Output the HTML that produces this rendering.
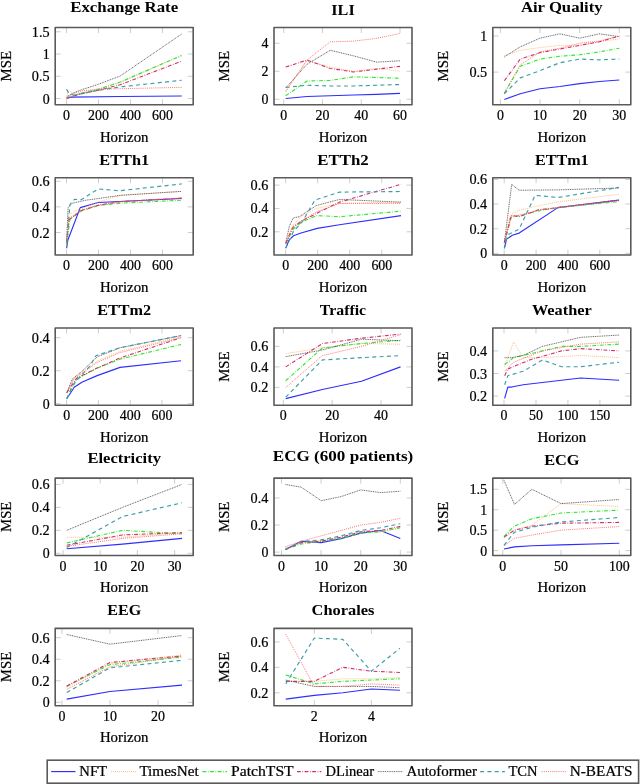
<!DOCTYPE html>
<html><head><meta charset="utf-8"><style>
html,body{margin:0;padding:0;background:#fff;width:640px;height:784px;overflow:hidden;position:relative}
svg{will-change:transform}
svg text{font-family:"Liberation Serif", serif;fill:#000;stroke:#000;stroke-width:0.22px}
</style></head><body>
<svg width="640" height="784" viewBox="0 0 640 784" style="position:absolute;left:0;top:0">
<rect width="640" height="784" fill="#fff"/>
<g><clipPath id="c00"><rect x="55.2" y="27.5" width="138" height="77.3"/></clipPath><path d="M66.5 104.8v-5.5M66.5 27.5v5.5M98.5 104.8v-5.5M98.5 27.5v5.5M130.5 104.8v-5.5M130.5 27.5v5.5M162.5 104.8v-5.5M162.5 27.5v5.5M55.2 98.5h5.5M193.2 98.5h-5.5M55.2 76.25h5.5M193.2 76.25h-5.5M55.2 54h5.5M193.2 54h-5.5M55.2 31.75h5.5M193.2 31.75h-5.5" stroke="#b8b8b8" stroke-width="0.7" fill="none"/><g clip-path="url(#c00)" fill="none" stroke-linejoin="round"><path d="M66.66 98.06 L71.3 97.17 L120.26 96.5 L181.7 96.05" stroke="#2e2eff" stroke-width="1.15"/><path d="M66.66 95.83 L68.9 90.05 L73.7 94.5 L81.86 92.72 L97.22 89.6 L120.26 82.48 L181.7 55.34" stroke="#ffb06a" stroke-width="0.8" stroke-dasharray="1 1"/><path d="M66.66 98.06 L74.18 95.39 L81.86 93.16 L97.22 89.6 L120.26 82.03 L181.7 55.6" stroke="#2ee82e" stroke-width="1.1" stroke-dasharray="3.8 1.6 0.7 1.5"/><path d="M66.66 98.5 L74.18 95.83 L81.86 93.61 L97.22 90.49 L120.26 84.7 L181.7 61.12" stroke="#d0306a" stroke-width="1.1" stroke-dasharray="3.8 1.6 0.7 1.5"/><path d="M66.66 96.72 L73.7 92.72 L81.86 89.6 L97.22 84.7 L120.26 75.98 L181.7 33.98" stroke="#444444" stroke-width="0.85" stroke-dasharray="1 0.8"/><path d="M66.66 89.29 L68.58 93.16 L74.18 95.39 L81.86 93.61 L97.22 90.49 L120.26 86.93 L181.7 80.25" stroke="#3a9ea6" stroke-width="1.15" stroke-dasharray="4 3.3"/><path d="M66.66 97.61 L74.18 93.16 L81.86 90.94 L97.22 89.16 L120.26 88.71 L181.7 87.38" stroke="#ff5a5a" stroke-width="0.85" stroke-dasharray="1 1.1"/></g><rect x="55.2" y="27.5" width="138" height="77.3" fill="none" stroke="#5a5a5a" stroke-width="1.6" stroke-linejoin="round"/><text x="66.5" y="120" font-size="13.8" text-anchor="middle" textLength="6.95" lengthAdjust="spacingAndGlyphs">0</text><text x="98.5" y="120" font-size="13.8" text-anchor="middle" textLength="20.85" lengthAdjust="spacingAndGlyphs">200</text><text x="130.5" y="120" font-size="13.8" text-anchor="middle" textLength="20.85" lengthAdjust="spacingAndGlyphs">400</text><text x="162.5" y="120" font-size="13.8" text-anchor="middle" textLength="20.85" lengthAdjust="spacingAndGlyphs">600</text><text x="49.6" y="103.5" font-size="13.8" text-anchor="end" textLength="6.95" lengthAdjust="spacingAndGlyphs">0</text><text x="49.6" y="81.25" font-size="13.8" text-anchor="end" textLength="17.8" lengthAdjust="spacingAndGlyphs">0.5</text><text x="49.6" y="59" font-size="13.8" text-anchor="end" textLength="6.95" lengthAdjust="spacingAndGlyphs">1</text><text x="49.6" y="36.75" font-size="13.8" text-anchor="end" textLength="17.8" lengthAdjust="spacingAndGlyphs">1.5</text><text x="124.2" y="141.6" font-size="14.2" text-anchor="middle" textLength="48.5" lengthAdjust="spacingAndGlyphs">Horizon</text><text transform="translate(10.6 66.15) rotate(-90)" font-size="14.3" text-anchor="middle" textLength="30.5" lengthAdjust="spacingAndGlyphs">MSE</text><text x="124.2" y="11.9" font-size="14.2" font-weight="bold" fill="#111" style="stroke:none" text-anchor="middle" textLength="107.9" lengthAdjust="spacingAndGlyphs">Exchange Rate</text></g>
<g><clipPath id="c10"><rect x="274" y="27.5" width="138" height="77.3"/></clipPath><path d="M283.75 104.8v-5.5M283.75 27.5v5.5M322.5 104.8v-5.5M322.5 27.5v5.5M361.25 104.8v-5.5M361.25 27.5v5.5M400 104.8v-5.5M400 27.5v5.5M274 99.25h5.5M412 99.25h-5.5M274 71.25h5.5M412 71.25h-5.5M274 43.25h5.5M412 43.25h-5.5" stroke="#b8b8b8" stroke-width="0.7" fill="none"/><g clip-path="url(#c10)" fill="none" stroke-linejoin="round"><path d="M285.69 98.55 L307 96.45 L330.25 95.75 L353.5 95.05 L376.75 94.35 L400 93.37" stroke="#2e2eff" stroke-width="1.15"/><path d="M285.69 90.85 L307 60.75 L330.25 67.05 L353.5 71.25 L376.75 68.45 L400 71.25" stroke="#ffb06a" stroke-width="0.8" stroke-dasharray="1 1"/><path d="M285.69 95.75 L307 81.05 L330.25 80.35 L353.5 76.85 L376.75 77.55 L400 78.25" stroke="#2ee82e" stroke-width="1.1" stroke-dasharray="3.8 1.6 0.7 1.5"/><path d="M285.69 67.05 L307 60.05 L330.25 68.45 L353.5 71.95 L376.75 69.15 L400 66.35" stroke="#d0306a" stroke-width="1.1" stroke-dasharray="3.8 1.6 0.7 1.5"/><path d="M285.69 88.05 L307 64.25 L330.25 50.25 L353.5 55.85 L376.75 62.15 L400 60.75" stroke="#444444" stroke-width="0.85" stroke-dasharray="1 0.8"/><path d="M285.69 87.35 L307 85.25 L330.25 85.95 L353.5 85.95 L376.75 85.25 L400 84.55" stroke="#3a9ea6" stroke-width="1.15" stroke-dasharray="4 3.3"/><path d="M285.69 91.55 L307 60.05 L330.25 41.85 L353.5 41.15 L376.75 38.35 L400 33.45" stroke="#ff5a5a" stroke-width="0.85" stroke-dasharray="1 1.1"/></g><rect x="274" y="27.5" width="138" height="77.3" fill="none" stroke="#5a5a5a" stroke-width="1.6" stroke-linejoin="round"/><text x="283.75" y="120" font-size="13.8" text-anchor="middle" textLength="6.95" lengthAdjust="spacingAndGlyphs">0</text><text x="322.5" y="120" font-size="13.8" text-anchor="middle" textLength="13.9" lengthAdjust="spacingAndGlyphs">20</text><text x="361.25" y="120" font-size="13.8" text-anchor="middle" textLength="13.9" lengthAdjust="spacingAndGlyphs">40</text><text x="400" y="120" font-size="13.8" text-anchor="middle" textLength="13.9" lengthAdjust="spacingAndGlyphs">60</text><text x="268.4" y="104.25" font-size="13.8" text-anchor="end" textLength="6.95" lengthAdjust="spacingAndGlyphs">0</text><text x="268.4" y="76.25" font-size="13.8" text-anchor="end" textLength="6.95" lengthAdjust="spacingAndGlyphs">2</text><text x="268.4" y="48.25" font-size="13.8" text-anchor="end" textLength="6.95" lengthAdjust="spacingAndGlyphs">4</text><text x="343" y="141.6" font-size="14.2" text-anchor="middle" textLength="48.5" lengthAdjust="spacingAndGlyphs">Horizon</text><text transform="translate(229.4 66.15) rotate(-90)" font-size="14.3" text-anchor="middle" textLength="30.5" lengthAdjust="spacingAndGlyphs">MSE</text><text x="343" y="14.5" font-size="14.2" font-weight="bold" fill="#111" style="stroke:none" text-anchor="middle" textLength="23.4" lengthAdjust="spacingAndGlyphs">ILI</text></g>
<g><clipPath id="c20"><rect x="492.8" y="27.5" width="138" height="77.3"/></clipPath><path d="M500.4 104.8v-5.5M500.4 27.5v5.5M540.03 104.8v-5.5M540.03 27.5v5.5M579.67 104.8v-5.5M579.67 27.5v5.5M619.3 104.8v-5.5M619.3 27.5v5.5M492.8 72.1h5.5M630.8 72.1h-5.5M492.8 36h5.5M630.8 36h-5.5" stroke="#b8b8b8" stroke-width="0.7" fill="none"/><g clip-path="url(#c20)" fill="none" stroke-linejoin="round"><path d="M504.36 99.54 L520.22 93.76 L540.03 88.71 L559.85 86.54 L579.67 83.65 L599.48 81.49 L619.3 80.04" stroke="#2e2eff" stroke-width="1.15"/><path d="M504.36 55.49 L520.22 50.44 L540.03 47.55 L559.85 45.39 L579.67 45.39 L599.48 41.78 L619.3 38.89" stroke="#ffb06a" stroke-width="0.8" stroke-dasharray="1 1"/><path d="M504.36 93.04 L520.22 66.32 L540.03 59.1 L559.85 56.22 L579.67 54.77 L599.48 51.88 L619.3 48.27" stroke="#2ee82e" stroke-width="1.1" stroke-dasharray="3.8 1.6 0.7 1.5"/><path d="M504.36 80.76 L520.22 59.1 L540.03 52.61 L559.85 49 L579.67 45.39 L599.48 41.78 L619.3 36" stroke="#d0306a" stroke-width="1.1" stroke-dasharray="3.8 1.6 0.7 1.5"/><path d="M504.36 56.94 L520.22 46.83 L540.03 38.17 L559.85 33.83 L579.67 38.17 L599.48 33.83 L619.3 36.72" stroke="#444444" stroke-width="0.85" stroke-dasharray="1 0.8"/><path d="M504.36 93.76 L520.22 77.88 L540.03 70.66 L559.85 62.71 L579.67 59.1 L599.48 59.83 L619.3 59.1" stroke="#3a9ea6" stroke-width="1.15" stroke-dasharray="4 3.3"/><path d="M504.36 93.04 L520.22 64.88 L540.03 51.88 L559.85 48.27 L579.67 43.22 L599.48 41.05 L619.3 36" stroke="#ff5a5a" stroke-width="0.85" stroke-dasharray="1 1.1"/></g><rect x="492.8" y="27.5" width="138" height="77.3" fill="none" stroke="#5a5a5a" stroke-width="1.6" stroke-linejoin="round"/><text x="500.4" y="120" font-size="13.8" text-anchor="middle" textLength="6.95" lengthAdjust="spacingAndGlyphs">0</text><text x="540.03" y="120" font-size="13.8" text-anchor="middle" textLength="13.9" lengthAdjust="spacingAndGlyphs">10</text><text x="579.67" y="120" font-size="13.8" text-anchor="middle" textLength="13.9" lengthAdjust="spacingAndGlyphs">20</text><text x="619.3" y="120" font-size="13.8" text-anchor="middle" textLength="13.9" lengthAdjust="spacingAndGlyphs">30</text><text x="487.2" y="77.1" font-size="13.8" text-anchor="end" textLength="17.8" lengthAdjust="spacingAndGlyphs">0.5</text><text x="487.2" y="41" font-size="13.8" text-anchor="end" textLength="6.95" lengthAdjust="spacingAndGlyphs">1</text><text x="561.8" y="141.6" font-size="14.2" text-anchor="middle" textLength="48.5" lengthAdjust="spacingAndGlyphs">Horizon</text><text transform="translate(448.2 66.15) rotate(-90)" font-size="14.3" text-anchor="middle" textLength="30.5" lengthAdjust="spacingAndGlyphs">MSE</text><text x="561.8" y="11.9" font-size="14.2" font-weight="bold" fill="#111" style="stroke:none" text-anchor="middle" textLength="81.7" lengthAdjust="spacingAndGlyphs">Air Quality</text></g>
<g><clipPath id="c01"><rect x="55.2" y="177.72" width="138" height="77.3"/></clipPath><path d="M66.5 255.02v-5.5M66.5 177.72v5.5M98.5 255.02v-5.5M98.5 177.72v5.5M130.5 255.02v-5.5M130.5 177.72v5.5M162.5 255.02v-5.5M162.5 177.72v5.5M55.2 232.5h5.5M193.2 232.5h-5.5M55.2 206.88h5.5M193.2 206.88h-5.5M55.2 181.25h5.5M193.2 181.25h-5.5" stroke="#b8b8b8" stroke-width="0.7" fill="none"/><g clip-path="url(#c01)" fill="none" stroke-linejoin="round"><path d="M66.66 248.26 L67.78 240.32 L80.26 207.64 L98.18 202.52 L181.7 198.55" stroke="#2e2eff" stroke-width="1.15"/><path d="M66.66 240.32 L68.9 215.46 L74.5 210.97 L81.22 208.8 L98.18 202.01 L120.26 195.34 L181.7 191.37" stroke="#ffb06a" stroke-width="0.8" stroke-dasharray="1 1"/><path d="M66.66 244.8 L70.02 218.92 L81.22 210.97 L98.18 205.59 L120.26 203.16 L181.7 200.21" stroke="#2ee82e" stroke-width="1.1" stroke-dasharray="3.8 1.6 0.7 1.5"/><path d="M66.66 242.62 L68.9 219.94 L81.22 210.59 L98.18 205.34 L120.26 201.62 L181.7 198.16" stroke="#d0306a" stroke-width="1.1" stroke-dasharray="3.8 1.6 0.7 1.5"/><path d="M66.66 238.91 L68.1 207.64 L72.26 203.16 L85.86 200.21 L98.18 198.55 L120.26 195.34 L181.7 191.37" stroke="#444444" stroke-width="0.85" stroke-dasharray="1 0.8"/><path d="M66.66 242.62 L70.02 204.31 L74.5 199.32 L81.22 199.7 L98.18 188.94 L119.62 190.73 L181.7 183.94" stroke="#3a9ea6" stroke-width="1.15" stroke-dasharray="4 3.3"/><path d="M66.66 242.62 L68.9 218.41 L81.22 210.08 L98.18 204.95 L120.26 201.75 L181.7 197.91" stroke="#ff5a5a" stroke-width="0.85" stroke-dasharray="1 1.1"/></g><rect x="55.2" y="177.72" width="138" height="77.3" fill="none" stroke="#5a5a5a" stroke-width="1.6" stroke-linejoin="round"/><text x="66.5" y="270.22" font-size="13.8" text-anchor="middle" textLength="6.95" lengthAdjust="spacingAndGlyphs">0</text><text x="98.5" y="270.22" font-size="13.8" text-anchor="middle" textLength="20.85" lengthAdjust="spacingAndGlyphs">200</text><text x="130.5" y="270.22" font-size="13.8" text-anchor="middle" textLength="20.85" lengthAdjust="spacingAndGlyphs">400</text><text x="162.5" y="270.22" font-size="13.8" text-anchor="middle" textLength="20.85" lengthAdjust="spacingAndGlyphs">600</text><text x="49.6" y="237.5" font-size="13.8" text-anchor="end" textLength="17.8" lengthAdjust="spacingAndGlyphs">0.2</text><text x="49.6" y="211.88" font-size="13.8" text-anchor="end" textLength="17.8" lengthAdjust="spacingAndGlyphs">0.4</text><text x="49.6" y="186.25" font-size="13.8" text-anchor="end" textLength="17.8" lengthAdjust="spacingAndGlyphs">0.6</text><text x="124.2" y="291.82" font-size="14.2" text-anchor="middle" textLength="48.5" lengthAdjust="spacingAndGlyphs">Horizon</text><text x="124.2" y="164.72" font-size="14.2" font-weight="bold" fill="#111" style="stroke:none" text-anchor="middle" textLength="49.9" lengthAdjust="spacingAndGlyphs">ETTh1</text></g>
<g><clipPath id="c11"><rect x="274" y="177.72" width="138" height="77.3"/></clipPath><path d="M285.6 255.02v-5.5M285.6 177.72v5.5M317.67 255.02v-5.5M317.67 177.72v5.5M349.73 255.02v-5.5M349.73 177.72v5.5M381.8 255.02v-5.5M381.8 177.72v5.5M274 231.8h5.5M412 231.8h-5.5M274 208.45h5.5M412 208.45h-5.5M274 185.1h5.5M412 185.1h-5.5" stroke="#b8b8b8" stroke-width="0.7" fill="none"/><g clip-path="url(#c11)" fill="none" stroke-linejoin="round"><path d="M285.76 248.15 L288.97 240.21 L293.46 235.77 L300.99 232.97 L317.19 228.41 L339.47 224.8 L401.04 215.57" stroke="#2e2eff" stroke-width="1.15"/><path d="M285.76 243.48 L293.3 224.56 L300.99 216.62 L316.38 208.45 L339.47 203.43 L401.04 202.15" stroke="#ffb06a" stroke-width="0.8" stroke-dasharray="1 1"/><path d="M285.76 243.48 L293.3 229 L300.99 222.46 L316.38 215.57 L339.47 216.74 L401.04 211.14" stroke="#2ee82e" stroke-width="1.1" stroke-dasharray="3.8 1.6 0.7 1.5"/><path d="M285.76 243.48 L292.49 227.95 L300.99 221.29 L316.38 213.47 L339.47 202.15 L401.04 184.28" stroke="#d0306a" stroke-width="1.1" stroke-dasharray="3.8 1.6 0.7 1.5"/><path d="M285.76 242.54 L289.45 225.96 L293.3 217.91 L299.23 216.74 L316.38 205.53 L339.47 199.46 L401.04 202.15" stroke="#444444" stroke-width="0.85" stroke-dasharray="1 0.8"/><path d="M285.76 248.15 L293.3 231.8 L302.6 221.29 L314.94 200.04 L339.47 192.1 L401.04 191.52" stroke="#3a9ea6" stroke-width="1.15" stroke-dasharray="4 3.3"/><path d="M285.76 243.48 L293.46 225.96 L316.38 211.95 L339.47 203.43 L401.04 203.43" stroke="#ff5a5a" stroke-width="0.85" stroke-dasharray="1 1.1"/></g><rect x="274" y="177.72" width="138" height="77.3" fill="none" stroke="#5a5a5a" stroke-width="1.6" stroke-linejoin="round"/><text x="285.6" y="270.22" font-size="13.8" text-anchor="middle" textLength="6.95" lengthAdjust="spacingAndGlyphs">0</text><text x="317.67" y="270.22" font-size="13.8" text-anchor="middle" textLength="20.85" lengthAdjust="spacingAndGlyphs">200</text><text x="349.73" y="270.22" font-size="13.8" text-anchor="middle" textLength="20.85" lengthAdjust="spacingAndGlyphs">400</text><text x="381.8" y="270.22" font-size="13.8" text-anchor="middle" textLength="20.85" lengthAdjust="spacingAndGlyphs">600</text><text x="268.4" y="236.8" font-size="13.8" text-anchor="end" textLength="17.8" lengthAdjust="spacingAndGlyphs">0.2</text><text x="268.4" y="213.45" font-size="13.8" text-anchor="end" textLength="17.8" lengthAdjust="spacingAndGlyphs">0.4</text><text x="268.4" y="190.1" font-size="13.8" text-anchor="end" textLength="17.8" lengthAdjust="spacingAndGlyphs">0.6</text><text x="343" y="291.82" font-size="14.2" text-anchor="middle" textLength="48.5" lengthAdjust="spacingAndGlyphs">Horizon</text><text x="343" y="164.72" font-size="14.2" font-weight="bold" fill="#111" style="stroke:none" text-anchor="middle" textLength="51.5" lengthAdjust="spacingAndGlyphs">ETTh2</text></g>
<g><clipPath id="c21"><rect x="492.8" y="177.72" width="138" height="77.3"/></clipPath><path d="M504.2 255.02v-5.5M504.2 177.72v5.5M536.07 255.02v-5.5M536.07 177.72v5.5M567.93 255.02v-5.5M567.93 177.72v5.5M599.8 255.02v-5.5M599.8 177.72v5.5M492.8 253.3h5.5M630.8 253.3h-5.5M492.8 228.67h5.5M630.8 228.67h-5.5M492.8 204.03h5.5M630.8 204.03h-5.5M492.8 179.4h5.5M630.8 179.4h-5.5" stroke="#b8b8b8" stroke-width="0.7" fill="none"/><g clip-path="url(#c21)" fill="none" stroke-linejoin="round"><path d="M504.36 248.25 L506.59 239.14 L512.33 235.32 L519.18 233.1 L557.9 207.61 L618.92 200.09" stroke="#2e2eff" stroke-width="1.15"/><path d="M504.36 242.58 L510.1 215.49 L516.95 210.93 L535.11 206.5 L557.9 201.94 L618.92 194.18" stroke="#ffb06a" stroke-width="0.8" stroke-dasharray="1 1"/><path d="M504.36 242.58 L511.21 217.58 L538.46 210.93 L557.9 207.61 L618.92 201.57" stroke="#2ee82e" stroke-width="1.1" stroke-dasharray="3.8 1.6 0.7 1.5"/><path d="M504.36 242.58 L511.21 215.49 L519.18 216.6 L538.46 209.82 L557.9 207.61 L618.92 200.09" stroke="#d0306a" stroke-width="1.1" stroke-dasharray="3.8 1.6 0.7 1.5"/><path d="M504.36 242.58 L511.69 184.45 L519.18 190.24 L557.74 189.87 L618.92 188.02" stroke="#444444" stroke-width="0.85" stroke-dasharray="1 0.8"/><path d="M504.36 248.25 L507.71 234.7 L519.18 229.04 L535.11 195.29 L557.9 197.51 L618.92 187.41" stroke="#3a9ea6" stroke-width="1.15" stroke-dasharray="4 3.3"/><path d="M504.36 242.58 L511.21 216.35 L519.18 215.12 L538.46 210.19 L557.9 207.61 L618.92 200.34" stroke="#ff5a5a" stroke-width="0.85" stroke-dasharray="1 1.1"/></g><rect x="492.8" y="177.72" width="138" height="77.3" fill="none" stroke="#5a5a5a" stroke-width="1.6" stroke-linejoin="round"/><text x="504.2" y="270.22" font-size="13.8" text-anchor="middle" textLength="6.95" lengthAdjust="spacingAndGlyphs">0</text><text x="536.07" y="270.22" font-size="13.8" text-anchor="middle" textLength="20.85" lengthAdjust="spacingAndGlyphs">200</text><text x="567.93" y="270.22" font-size="13.8" text-anchor="middle" textLength="20.85" lengthAdjust="spacingAndGlyphs">400</text><text x="599.8" y="270.22" font-size="13.8" text-anchor="middle" textLength="20.85" lengthAdjust="spacingAndGlyphs">600</text><text x="487.2" y="258.3" font-size="13.8" text-anchor="end" textLength="6.95" lengthAdjust="spacingAndGlyphs">0</text><text x="487.2" y="233.67" font-size="13.8" text-anchor="end" textLength="17.8" lengthAdjust="spacingAndGlyphs">0.2</text><text x="487.2" y="209.03" font-size="13.8" text-anchor="end" textLength="17.8" lengthAdjust="spacingAndGlyphs">0.4</text><text x="487.2" y="184.4" font-size="13.8" text-anchor="end" textLength="17.8" lengthAdjust="spacingAndGlyphs">0.6</text><text x="561.8" y="291.82" font-size="14.2" text-anchor="middle" textLength="48.5" lengthAdjust="spacingAndGlyphs">Horizon</text><text x="561.8" y="164.72" font-size="14.2" font-weight="bold" fill="#111" style="stroke:none" text-anchor="middle" textLength="53.8" lengthAdjust="spacingAndGlyphs">ETTm1</text></g>
<g><clipPath id="c02"><rect x="55.2" y="327.94" width="138" height="77.3"/></clipPath><path d="M66.6 405.24v-5.5M66.6 327.94v5.5M98.4 405.24v-5.5M98.4 327.94v5.5M130.2 405.24v-5.5M130.2 327.94v5.5M162 405.24v-5.5M162 327.94v5.5M55.2 403.7h5.5M193.2 403.7h-5.5M55.2 370.7h5.5M193.2 370.7h-5.5M55.2 337.7h5.5M193.2 337.7h-5.5" stroke="#b8b8b8" stroke-width="0.7" fill="none"/><g clip-path="url(#c02)" fill="none" stroke-linejoin="round"><path d="M66.76 398.75 L74.23 387.2 L81.86 382.25 L97.13 375.65 L120.02 367.4 L181.08 360.8" stroke="#2e2eff" stroke-width="1.15"/><path d="M66.76 392.64 L74.23 378.12 L97.13 361.29 L120.02 351.23 L181.08 336.71" stroke="#ffb06a" stroke-width="0.8" stroke-dasharray="1 1"/><path d="M66.76 398.75 L76.78 379.12 L97.13 368.06 L120.02 359.15 L181.08 344.46" stroke="#2ee82e" stroke-width="1.1" stroke-dasharray="3.8 1.6 0.7 1.5"/><path d="M66.76 392.64 L76.78 378.12 L97.13 368.06 L120.02 358 L181.08 337.7" stroke="#d0306a" stroke-width="1.1" stroke-dasharray="3.8 1.6 0.7 1.5"/><path d="M66.76 392.64 L72.32 379.12 L81.86 371.36 L97.13 356.84 L120.02 347.76 L181.08 335.56" stroke="#444444" stroke-width="0.85" stroke-dasharray="1 0.8"/><path d="M66.76 398.75 L72.32 385.88 L76.78 380.27 L90.29 365.75 L95.86 355.69 L120.02 347.76 L181.08 335.56" stroke="#3a9ea6" stroke-width="1.15" stroke-dasharray="4 3.3"/><path d="M66.76 392.64 L74.23 378.95 L97.13 362.45 L120.02 352.55 L181.08 337.7" stroke="#ff5a5a" stroke-width="0.85" stroke-dasharray="1 1.1"/></g><rect x="55.2" y="327.94" width="138" height="77.3" fill="none" stroke="#5a5a5a" stroke-width="1.6" stroke-linejoin="round"/><text x="66.6" y="420.44" font-size="13.8" text-anchor="middle" textLength="6.95" lengthAdjust="spacingAndGlyphs">0</text><text x="98.4" y="420.44" font-size="13.8" text-anchor="middle" textLength="20.85" lengthAdjust="spacingAndGlyphs">200</text><text x="130.2" y="420.44" font-size="13.8" text-anchor="middle" textLength="20.85" lengthAdjust="spacingAndGlyphs">400</text><text x="162" y="420.44" font-size="13.8" text-anchor="middle" textLength="20.85" lengthAdjust="spacingAndGlyphs">600</text><text x="49.6" y="408.7" font-size="13.8" text-anchor="end" textLength="6.95" lengthAdjust="spacingAndGlyphs">0</text><text x="49.6" y="375.7" font-size="13.8" text-anchor="end" textLength="17.8" lengthAdjust="spacingAndGlyphs">0.2</text><text x="49.6" y="342.7" font-size="13.8" text-anchor="end" textLength="17.8" lengthAdjust="spacingAndGlyphs">0.4</text><text x="124.2" y="442.04" font-size="14.2" text-anchor="middle" textLength="48.5" lengthAdjust="spacingAndGlyphs">Horizon</text><text x="124.2" y="314.94" font-size="14.2" font-weight="bold" fill="#111" style="stroke:none" text-anchor="middle" textLength="54" lengthAdjust="spacingAndGlyphs">ETTm2</text></g>
<g><clipPath id="c12"><rect x="274" y="327.94" width="138" height="77.3"/></clipPath><path d="M283.3 405.24v-5.5M283.3 327.94v5.5M332.15 405.24v-5.5M332.15 327.94v5.5M381 405.24v-5.5M381 327.94v5.5M274 387.4h5.5M412 387.4h-5.5M274 366.9h5.5M412 366.9h-5.5M274 346.4h5.5M412 346.4h-5.5" stroke="#b8b8b8" stroke-width="0.7" fill="none"/><g clip-path="url(#c12)" fill="none" stroke-linejoin="round"><path d="M285.74 398.67 L322.38 389.45 L361.46 381.25 L400.54 366.9" stroke="#2e2eff" stroke-width="1.15"/><path d="M285.74 353.57 L322.38 347.94 L361.46 343.32 L400.54 344.35" stroke="#ffb06a" stroke-width="0.8" stroke-dasharray="1 1"/><path d="M285.74 380.74 L322.38 347.94 L361.46 343.53 L400.54 340.25" stroke="#2ee82e" stroke-width="1.1" stroke-dasharray="3.8 1.6 0.7 1.5"/><path d="M285.74 366.9 L322.38 343.53 L361.46 338.2 L400.54 334.1" stroke="#d0306a" stroke-width="1.1" stroke-dasharray="3.8 1.6 0.7 1.5"/><path d="M285.74 356.65 L322.38 349.99 L361.46 339.22 L400.54 340.76" stroke="#444444" stroke-width="0.85" stroke-dasharray="1 0.8"/><path d="M285.74 397.14 L322.38 359.93 L361.46 357.67 L400.54 355.62" stroke="#3a9ea6" stroke-width="1.15" stroke-dasharray="4 3.3"/><path d="M285.74 387.4 L322.38 355.62 L361.46 346.4 L400.54 334.71" stroke="#ff5a5a" stroke-width="0.85" stroke-dasharray="1 1.1"/></g><rect x="274" y="327.94" width="138" height="77.3" fill="none" stroke="#5a5a5a" stroke-width="1.6" stroke-linejoin="round"/><text x="283.3" y="420.44" font-size="13.8" text-anchor="middle" textLength="6.95" lengthAdjust="spacingAndGlyphs">0</text><text x="332.15" y="420.44" font-size="13.8" text-anchor="middle" textLength="13.9" lengthAdjust="spacingAndGlyphs">20</text><text x="381" y="420.44" font-size="13.8" text-anchor="middle" textLength="13.9" lengthAdjust="spacingAndGlyphs">40</text><text x="268.4" y="392.4" font-size="13.8" text-anchor="end" textLength="17.8" lengthAdjust="spacingAndGlyphs">0.2</text><text x="268.4" y="371.9" font-size="13.8" text-anchor="end" textLength="17.8" lengthAdjust="spacingAndGlyphs">0.4</text><text x="268.4" y="351.4" font-size="13.8" text-anchor="end" textLength="17.8" lengthAdjust="spacingAndGlyphs">0.6</text><text x="343" y="442.04" font-size="14.2" text-anchor="middle" textLength="48.5" lengthAdjust="spacingAndGlyphs">Horizon</text><text transform="translate(229.4 366.59) rotate(-90)" font-size="14.3" text-anchor="middle" textLength="30.5" lengthAdjust="spacingAndGlyphs">MSE</text><text x="343" y="314.94" font-size="14.2" font-weight="bold" fill="#111" style="stroke:none" text-anchor="middle" textLength="46.3" lengthAdjust="spacingAndGlyphs">Traffic</text></g>
<g><clipPath id="c22"><rect x="492.8" y="327.94" width="138" height="77.3"/></clipPath><path d="M504 405.24v-5.5M504 327.94v5.5M535.97 405.24v-5.5M535.97 327.94v5.5M567.93 405.24v-5.5M567.93 327.94v5.5M599.9 405.24v-5.5M599.9 327.94v5.5M492.8 396.1h5.5M630.8 396.1h-5.5M492.8 373.5h5.5M630.8 373.5h-5.5M492.8 350.9h5.5M630.8 350.9h-5.5" stroke="#b8b8b8" stroke-width="0.7" fill="none"/><g clip-path="url(#c22)" fill="none" stroke-linejoin="round"><path d="M504.64 398.36 L507.84 387.06 L511.67 387.06 L523.18 384.8 L542.36 382.54 L561.54 380.28 L580.72 378.02 L619.08 380.28" stroke="#2e2eff" stroke-width="1.15"/><path d="M504.64 366.72 L507.84 357.68 L513.59 341.86 L523.18 357.68 L542.36 357.68 L580.72 355.42 L619.08 357.68" stroke="#ffb06a" stroke-width="0.8" stroke-dasharray="1 1"/><path d="M504.64 364.46 L513.59 357.68 L542.36 350.9 L561.54 346.38 L580.72 346.38 L619.08 344.12" stroke="#2ee82e" stroke-width="1.1" stroke-dasharray="3.8 1.6 0.7 1.5"/><path d="M504.64 375.76 L507.84 368.98 L529.57 359.94 L561.54 350.9 L580.72 348.64 L619.08 350.9" stroke="#d0306a" stroke-width="1.1" stroke-dasharray="3.8 1.6 0.7 1.5"/><path d="M504.64 357.68 L511.67 357.68 L523.18 355.42 L542.36 346.38 L580.72 337.34 L619.08 335.08" stroke="#444444" stroke-width="0.85" stroke-dasharray="1 0.8"/><path d="M504.64 384.8 L507.84 375.76 L523.18 371.24 L542.36 359.94 L561.54 366.72 L580.72 366.72 L619.08 362.2" stroke="#3a9ea6" stroke-width="1.15" stroke-dasharray="4 3.3"/><path d="M504.64 371.24 L513.59 362.2 L542.36 350.9 L580.72 344.12 L619.08 341.86" stroke="#ff5a5a" stroke-width="0.85" stroke-dasharray="1 1.1"/></g><rect x="492.8" y="327.94" width="138" height="77.3" fill="none" stroke="#5a5a5a" stroke-width="1.6" stroke-linejoin="round"/><text x="504" y="420.44" font-size="13.8" text-anchor="middle" textLength="6.95" lengthAdjust="spacingAndGlyphs">0</text><text x="535.97" y="420.44" font-size="13.8" text-anchor="middle" textLength="13.9" lengthAdjust="spacingAndGlyphs">50</text><text x="567.93" y="420.44" font-size="13.8" text-anchor="middle" textLength="20.85" lengthAdjust="spacingAndGlyphs">100</text><text x="599.9" y="420.44" font-size="13.8" text-anchor="middle" textLength="20.85" lengthAdjust="spacingAndGlyphs">150</text><text x="487.2" y="401.1" font-size="13.8" text-anchor="end" textLength="17.8" lengthAdjust="spacingAndGlyphs">0.2</text><text x="487.2" y="378.5" font-size="13.8" text-anchor="end" textLength="17.8" lengthAdjust="spacingAndGlyphs">0.3</text><text x="487.2" y="355.9" font-size="13.8" text-anchor="end" textLength="17.8" lengthAdjust="spacingAndGlyphs">0.4</text><text x="561.8" y="442.04" font-size="14.2" text-anchor="middle" textLength="48.5" lengthAdjust="spacingAndGlyphs">Horizon</text><text transform="translate(448.2 366.59) rotate(-90)" font-size="14.3" text-anchor="middle" textLength="30.5" lengthAdjust="spacingAndGlyphs">MSE</text><text x="561.8" y="314.94" font-size="14.2" font-weight="bold" fill="#111" style="stroke:none" text-anchor="middle" textLength="59.8" lengthAdjust="spacingAndGlyphs">Weather</text></g>
<g><clipPath id="c03"><rect x="55.2" y="478.16" width="138" height="77.3"/></clipPath><path d="M63 555.46v-5.5M63 478.16v5.5M100.2 555.46v-5.5M100.2 478.16v5.5M137.4 555.46v-5.5M137.4 478.16v5.5M174.6 555.46v-5.5M174.6 478.16v5.5M55.2 553.3h5.5M193.2 553.3h-5.5M55.2 530.33h5.5M193.2 530.33h-5.5M55.2 507.37h5.5M193.2 507.37h-5.5M55.2 484.4h5.5M193.2 484.4h-5.5" stroke="#b8b8b8" stroke-width="0.7" fill="none"/><g clip-path="url(#c03)" fill="none" stroke-linejoin="round"><path d="M66.72 548.71 L122.52 544.11 L182.04 538.37" stroke="#2e2eff" stroke-width="1.15"/><path d="M66.72 537.22 L122.52 537.22 L182.04 532.63" stroke="#ffb06a" stroke-width="0.8" stroke-dasharray="1 1"/><path d="M66.72 542.96 L122.52 530.33 L182.04 533.78" stroke="#2ee82e" stroke-width="1.1" stroke-dasharray="3.8 1.6 0.7 1.5"/><path d="M66.72 545.26 L122.52 534.93 L182.04 532.63" stroke="#d0306a" stroke-width="1.1" stroke-dasharray="3.8 1.6 0.7 1.5"/><path d="M66.72 530.33 L122.52 507.37 L182.04 484.4" stroke="#444444" stroke-width="0.85" stroke-dasharray="1 0.8"/><path d="M66.72 547.56 L122.52 516.55 L182.04 502.77" stroke="#3a9ea6" stroke-width="1.15" stroke-dasharray="4 3.3"/><path d="M66.72 546.41 L122.52 538.37 L182.04 533.78" stroke="#ff5a5a" stroke-width="0.85" stroke-dasharray="1 1.1"/></g><rect x="55.2" y="478.16" width="138" height="77.3" fill="none" stroke="#5a5a5a" stroke-width="1.6" stroke-linejoin="round"/><text x="63" y="570.66" font-size="13.8" text-anchor="middle" textLength="6.95" lengthAdjust="spacingAndGlyphs">0</text><text x="100.2" y="570.66" font-size="13.8" text-anchor="middle" textLength="13.9" lengthAdjust="spacingAndGlyphs">10</text><text x="137.4" y="570.66" font-size="13.8" text-anchor="middle" textLength="13.9" lengthAdjust="spacingAndGlyphs">20</text><text x="174.6" y="570.66" font-size="13.8" text-anchor="middle" textLength="13.9" lengthAdjust="spacingAndGlyphs">30</text><text x="49.6" y="558.3" font-size="13.8" text-anchor="end" textLength="6.95" lengthAdjust="spacingAndGlyphs">0</text><text x="49.6" y="535.33" font-size="13.8" text-anchor="end" textLength="17.8" lengthAdjust="spacingAndGlyphs">0.2</text><text x="49.6" y="512.37" font-size="13.8" text-anchor="end" textLength="17.8" lengthAdjust="spacingAndGlyphs">0.4</text><text x="49.6" y="489.4" font-size="13.8" text-anchor="end" textLength="17.8" lengthAdjust="spacingAndGlyphs">0.6</text><text x="124.2" y="592.26" font-size="14.2" text-anchor="middle" textLength="48.5" lengthAdjust="spacingAndGlyphs">Horizon</text><text transform="translate(10.6 516.81) rotate(-90)" font-size="14.3" text-anchor="middle" textLength="30.5" lengthAdjust="spacingAndGlyphs">MSE</text><text x="124.2" y="462.56" font-size="14.2" font-weight="bold" fill="#111" style="stroke:none" text-anchor="middle" textLength="73.5" lengthAdjust="spacingAndGlyphs">Electricity</text></g>
<g><clipPath id="c13"><rect x="274" y="478.16" width="138" height="77.3"/></clipPath><path d="M281.5 555.46v-5.5M281.5 478.16v5.5M321.1 555.46v-5.5M321.1 478.16v5.5M360.7 555.46v-5.5M360.7 478.16v5.5M400.3 555.46v-5.5M400.3 478.16v5.5M274 552.1h5.5M412 552.1h-5.5M274 525.05h5.5M412 525.05h-5.5M274 498h5.5M412 498h-5.5" stroke="#b8b8b8" stroke-width="0.7" fill="none"/><g clip-path="url(#c13)" fill="none" stroke-linejoin="round"><path d="M285.46 549.39 L301.3 541.28 L321.1 542.63 L340.9 538.58 L360.7 533.16 L380.5 530.46 L400.3 538.58" stroke="#2e2eff" stroke-width="1.15"/><path d="M285.46 548.04 L301.3 542.63 L321.1 539.93 L340.9 537.22 L360.7 531.81 L380.5 531.81 L400.3 527.75" stroke="#ffb06a" stroke-width="0.8" stroke-dasharray="1 1"/><path d="M285.46 549.39 L301.3 543.99 L321.1 541.28 L340.9 538.58 L360.7 533.16 L380.5 531.81 L400.3 527.75" stroke="#2ee82e" stroke-width="1.1" stroke-dasharray="3.8 1.6 0.7 1.5"/><path d="M285.46 549.39 L301.3 542.63 L321.1 541.28 L340.9 537.22 L360.7 531.81 L380.5 530.46 L400.3 526.4" stroke="#d0306a" stroke-width="1.1" stroke-dasharray="3.8 1.6 0.7 1.5"/><path d="M285.46 484.48 L301.3 487.18 L321.1 500.7 L340.9 496.65 L360.7 489.88 L380.5 492.59 L400.3 491.24" stroke="#444444" stroke-width="0.85" stroke-dasharray="1 0.8"/><path d="M285.46 549.39 L301.3 541.28 L321.1 539.93 L340.9 535.87 L360.7 530.46 L380.5 527.75 L400.3 523.7" stroke="#3a9ea6" stroke-width="1.15" stroke-dasharray="4 3.3"/><path d="M285.46 546.69 L301.3 541.28 L321.1 535.87 L340.9 530.46 L360.7 525.05 L380.5 522.35 L400.3 518.29" stroke="#ff5a5a" stroke-width="0.85" stroke-dasharray="1 1.1"/></g><rect x="274" y="478.16" width="138" height="77.3" fill="none" stroke="#5a5a5a" stroke-width="1.6" stroke-linejoin="round"/><text x="281.5" y="570.66" font-size="13.8" text-anchor="middle" textLength="6.95" lengthAdjust="spacingAndGlyphs">0</text><text x="321.1" y="570.66" font-size="13.8" text-anchor="middle" textLength="13.9" lengthAdjust="spacingAndGlyphs">10</text><text x="360.7" y="570.66" font-size="13.8" text-anchor="middle" textLength="13.9" lengthAdjust="spacingAndGlyphs">20</text><text x="400.3" y="570.66" font-size="13.8" text-anchor="middle" textLength="13.9" lengthAdjust="spacingAndGlyphs">30</text><text x="268.4" y="557.1" font-size="13.8" text-anchor="end" textLength="6.95" lengthAdjust="spacingAndGlyphs">0</text><text x="268.4" y="530.05" font-size="13.8" text-anchor="end" textLength="17.8" lengthAdjust="spacingAndGlyphs">0.2</text><text x="268.4" y="503" font-size="13.8" text-anchor="end" textLength="17.8" lengthAdjust="spacingAndGlyphs">0.4</text><text x="343" y="592.26" font-size="14.2" text-anchor="middle" textLength="48.5" lengthAdjust="spacingAndGlyphs">Horizon</text><text transform="translate(229.4 516.81) rotate(-90)" font-size="14.3" text-anchor="middle" textLength="30.5" lengthAdjust="spacingAndGlyphs">MSE</text><text x="343" y="460.56" font-size="14.2" font-weight="bold" fill="#111" style="stroke:none" text-anchor="middle" textLength="140.5" lengthAdjust="spacingAndGlyphs">ECG (600 patients)</text></g>
<g><clipPath id="c23"><rect x="492.8" y="478.16" width="138" height="77.3"/></clipPath><path d="M502.8 555.46v-5.5M502.8 478.16v5.5M561.05 555.46v-5.5M561.05 478.16v5.5M619.3 555.46v-5.5M619.3 478.16v5.5M492.8 550.6h5.5M630.8 550.6h-5.5M492.8 530.17h5.5M630.8 530.17h-5.5M492.8 509.73h5.5M630.8 509.73h-5.5M492.8 489.3h5.5M630.8 489.3h-5.5" stroke="#b8b8b8" stroke-width="0.7" fill="none"/><g clip-path="url(#c23)" fill="none" stroke-linejoin="round"><path d="M503.97 548.97 L514.45 546.92 L531.92 545.7 L561.05 544.88 L619.3 543.24" stroke="#2e2eff" stroke-width="1.15"/><path d="M503.97 538.34 L514.45 530.17 L531.92 525.26 L561.05 503.6 L619.3 506.46" stroke="#ffb06a" stroke-width="0.8" stroke-dasharray="1 1"/><path d="M503.97 536.3 L514.45 526.08 L531.92 518.72 L561.05 513 L619.3 510.14" stroke="#2ee82e" stroke-width="1.1" stroke-dasharray="3.8 1.6 0.7 1.5"/><path d="M503.97 537.11 L514.45 530.17 L531.92 526.08 L561.05 523.22 L619.3 522.4" stroke="#d0306a" stroke-width="1.1" stroke-dasharray="3.8 1.6 0.7 1.5"/><path d="M503.97 480.31 L514.45 504.42 L531.92 489.3 L561.05 503.6 L619.3 499.52" stroke="#444444" stroke-width="0.85" stroke-dasharray="1 0.8"/><path d="M503.97 545.29 L514.45 532.21 L531.92 527.31 L561.05 521.99 L619.3 517.5" stroke="#3a9ea6" stroke-width="1.15" stroke-dasharray="4 3.3"/><path d="M503.97 545.7 L514.45 538.34 L531.92 535.07 L561.05 530.17 L619.3 526.49" stroke="#ff5a5a" stroke-width="0.85" stroke-dasharray="1 1.1"/></g><rect x="492.8" y="478.16" width="138" height="77.3" fill="none" stroke="#5a5a5a" stroke-width="1.6" stroke-linejoin="round"/><text x="502.8" y="570.66" font-size="13.8" text-anchor="middle" textLength="6.95" lengthAdjust="spacingAndGlyphs">0</text><text x="561.05" y="570.66" font-size="13.8" text-anchor="middle" textLength="13.9" lengthAdjust="spacingAndGlyphs">50</text><text x="619.3" y="570.66" font-size="13.8" text-anchor="middle" textLength="20.85" lengthAdjust="spacingAndGlyphs">100</text><text x="487.2" y="555.6" font-size="13.8" text-anchor="end" textLength="6.95" lengthAdjust="spacingAndGlyphs">0</text><text x="487.2" y="535.17" font-size="13.8" text-anchor="end" textLength="17.8" lengthAdjust="spacingAndGlyphs">0.5</text><text x="487.2" y="514.73" font-size="13.8" text-anchor="end" textLength="6.95" lengthAdjust="spacingAndGlyphs">1</text><text x="487.2" y="494.3" font-size="13.8" text-anchor="end" textLength="17.8" lengthAdjust="spacingAndGlyphs">1.5</text><text x="561.8" y="592.26" font-size="14.2" text-anchor="middle" textLength="48.5" lengthAdjust="spacingAndGlyphs">Horizon</text><text transform="translate(448.2 516.81) rotate(-90)" font-size="14.3" text-anchor="middle" textLength="30.5" lengthAdjust="spacingAndGlyphs">MSE</text><text x="561.8" y="465.16" font-size="14.2" font-weight="bold" fill="#111" style="stroke:none" text-anchor="middle" textLength="35.3" lengthAdjust="spacingAndGlyphs">ECG</text></g>
<g><clipPath id="c04"><rect x="55.2" y="628.38" width="138" height="77.3"/></clipPath><path d="M61.9 705.68v-5.5M61.9 628.38v5.5M109.95 705.68v-5.5M109.95 628.38v5.5M158 705.68v-5.5M158 628.38v5.5M55.2 702.3h5.5M193.2 702.3h-5.5M55.2 680.77h5.5M193.2 680.77h-5.5M55.2 659.23h5.5M193.2 659.23h-5.5M55.2 637.7h5.5M193.2 637.7h-5.5" stroke="#b8b8b8" stroke-width="0.7" fill="none"/><g clip-path="url(#c04)" fill="none" stroke-linejoin="round"><path d="M66.7 699.07 L109.95 691.53 L182.03 685.07" stroke="#2e2eff" stroke-width="1.15"/><path d="M66.7 687.23 L109.95 663.54 L182.03 654.93" stroke="#ffb06a" stroke-width="0.8" stroke-dasharray="1 1"/><path d="M66.7 686.15 L109.95 664.62 L182.03 657.08" stroke="#2ee82e" stroke-width="1.1" stroke-dasharray="3.8 1.6 0.7 1.5"/><path d="M66.7 686.15 L109.95 662.46 L182.03 656" stroke="#d0306a" stroke-width="1.1" stroke-dasharray="3.8 1.6 0.7 1.5"/><path d="M66.7 634.47 L109.95 644.16 L182.03 635.55" stroke="#444444" stroke-width="0.85" stroke-dasharray="1 0.8"/><path d="M66.7 692.61 L109.95 667.85 L182.03 660.31" stroke="#3a9ea6" stroke-width="1.15" stroke-dasharray="4 3.3"/><path d="M66.7 689.38 L109.95 666.77 L182.03 656" stroke="#ff5a5a" stroke-width="0.85" stroke-dasharray="1 1.1"/></g><rect x="55.2" y="628.38" width="138" height="77.3" fill="none" stroke="#5a5a5a" stroke-width="1.6" stroke-linejoin="round"/><text x="61.9" y="720.88" font-size="13.8" text-anchor="middle" textLength="6.95" lengthAdjust="spacingAndGlyphs">0</text><text x="109.95" y="720.88" font-size="13.8" text-anchor="middle" textLength="13.9" lengthAdjust="spacingAndGlyphs">10</text><text x="158" y="720.88" font-size="13.8" text-anchor="middle" textLength="13.9" lengthAdjust="spacingAndGlyphs">20</text><text x="49.6" y="707.3" font-size="13.8" text-anchor="end" textLength="6.95" lengthAdjust="spacingAndGlyphs">0</text><text x="49.6" y="685.77" font-size="13.8" text-anchor="end" textLength="17.8" lengthAdjust="spacingAndGlyphs">0.2</text><text x="49.6" y="664.23" font-size="13.8" text-anchor="end" textLength="17.8" lengthAdjust="spacingAndGlyphs">0.4</text><text x="49.6" y="642.7" font-size="13.8" text-anchor="end" textLength="17.8" lengthAdjust="spacingAndGlyphs">0.6</text><text x="124.2" y="742.48" font-size="14.2" text-anchor="middle" textLength="48.5" lengthAdjust="spacingAndGlyphs">Horizon</text><text transform="translate(10.6 667.03) rotate(-90)" font-size="14.3" text-anchor="middle" textLength="30.5" lengthAdjust="spacingAndGlyphs">MSE</text><text x="124.2" y="615.38" font-size="14.2" font-weight="bold" fill="#111" style="stroke:none" text-anchor="middle" textLength="34" lengthAdjust="spacingAndGlyphs">EEG</text></g>
<g><clipPath id="c14"><rect x="274" y="628.38" width="138" height="77.3"/></clipPath><path d="M314.3 705.68v-5.5M314.3 628.38v5.5M371.4 705.68v-5.5M371.4 628.38v5.5M274 692.8h5.5M412 692.8h-5.5M274 667.35h5.5M412 667.35h-5.5M274 641.9h5.5M412 641.9h-5.5" stroke="#b8b8b8" stroke-width="0.7" fill="none"/><g clip-path="url(#c14)" fill="none" stroke-linejoin="round"><path d="M285.75 699.16 L314.3 695.34 L342.85 692.8 L371.4 688.98 L399.95 690.25" stroke="#2e2eff" stroke-width="1.15"/><path d="M285.75 681.35 L314.3 681.35 L342.85 678.8 L371.4 678.8 L399.95 677.53" stroke="#ffb06a" stroke-width="0.8" stroke-dasharray="1 1"/><path d="M285.75 674.99 L314.3 683.89 L342.85 681.35 L371.4 680.07 L399.95 678.8" stroke="#2ee82e" stroke-width="1.1" stroke-dasharray="3.8 1.6 0.7 1.5"/><path d="M285.75 681.35 L314.3 681.35 L342.85 667.35 L371.4 671.17 L399.95 672.44" stroke="#d0306a" stroke-width="1.1" stroke-dasharray="3.8 1.6 0.7 1.5"/><path d="M285.75 680.07 L314.3 686.44 L342.85 686.44 L371.4 686.44 L399.95 687.71" stroke="#444444" stroke-width="0.85" stroke-dasharray="1 0.8"/><path d="M285.75 683.89 L314.3 638.08 L342.85 639.36 L371.4 671.17 L399.95 648.26" stroke="#3a9ea6" stroke-width="1.15" stroke-dasharray="4 3.3"/><path d="M285.75 634.26 L314.3 686.44 L342.85 686.44 L371.4 683.89 L399.95 685.16" stroke="#ff5a5a" stroke-width="0.85" stroke-dasharray="1 1.1"/></g><rect x="274" y="628.38" width="138" height="77.3" fill="none" stroke="#5a5a5a" stroke-width="1.6" stroke-linejoin="round"/><text x="314.3" y="720.88" font-size="13.8" text-anchor="middle" textLength="6.95" lengthAdjust="spacingAndGlyphs">2</text><text x="371.4" y="720.88" font-size="13.8" text-anchor="middle" textLength="6.95" lengthAdjust="spacingAndGlyphs">4</text><text x="268.4" y="697.8" font-size="13.8" text-anchor="end" textLength="17.8" lengthAdjust="spacingAndGlyphs">0.2</text><text x="268.4" y="672.35" font-size="13.8" text-anchor="end" textLength="17.8" lengthAdjust="spacingAndGlyphs">0.4</text><text x="268.4" y="646.9" font-size="13.8" text-anchor="end" textLength="17.8" lengthAdjust="spacingAndGlyphs">0.6</text><text x="343" y="742.48" font-size="14.2" text-anchor="middle" textLength="48.5" lengthAdjust="spacingAndGlyphs">Horizon</text><text transform="translate(229.4 667.03) rotate(-90)" font-size="14.3" text-anchor="middle" textLength="30.5" lengthAdjust="spacingAndGlyphs">MSE</text><text x="343" y="615.38" font-size="14.2" font-weight="bold" fill="#111" style="stroke:none" text-anchor="middle" textLength="62.9" lengthAdjust="spacingAndGlyphs">Chorales</text></g>
<rect x="47.2" y="760.2" width="591.4" height="23" fill="none" stroke="#5a5a5a" stroke-width="1.6"/>
<path d="M51.2 771.6H75.5" stroke="#2e2eff" stroke-width="1.15" fill="none"/>
<text x="79.3" y="775.6" font-size="14" textLength="27.7" lengthAdjust="spacingAndGlyphs">NFT</text>
<path d="M111 771.6H136.5" stroke="#ffb06a" stroke-width="0.8" stroke-dasharray="1 1" fill="none"/>
<text x="139.4" y="775.6" font-size="14" textLength="59.3" lengthAdjust="spacingAndGlyphs">TimesNet</text>
<path d="M202.5 771.6H226.9" stroke="#2ee82e" stroke-width="1.1" stroke-dasharray="3.8 1.6 0.7 1.5" fill="none"/>
<text x="231" y="775.6" font-size="14" textLength="62.7" lengthAdjust="spacingAndGlyphs">PatchTST</text>
<path d="M297 771.6H321.4" stroke="#d0306a" stroke-width="1.1" stroke-dasharray="3.8 1.6 0.7 1.5" fill="none"/>
<text x="325.6" y="775.6" font-size="14" textLength="48.4" lengthAdjust="spacingAndGlyphs">DLinear</text>
<path d="M377.8 771.6H403.1" stroke="#444444" stroke-width="0.85" stroke-dasharray="1 0.8" fill="none"/>
<text x="406.4" y="775.6" font-size="14" textLength="70.6" lengthAdjust="spacingAndGlyphs">Autoformer</text>
<path d="M480.1 771.6H504.9" stroke="#3a9ea6" stroke-width="1.15" stroke-dasharray="4 3.3" fill="none"/>
<text x="508.4" y="775.6" font-size="14" textLength="29.1" lengthAdjust="spacingAndGlyphs">TCN</text>
<path d="M541.7 771.6H566.6" stroke="#ff5a5a" stroke-width="0.85" stroke-dasharray="1 1.1" fill="none"/>
<text x="569.8" y="775.6" font-size="14" textLength="62.6" lengthAdjust="spacingAndGlyphs">N-BEATS</text>
</svg>
</body></html>
